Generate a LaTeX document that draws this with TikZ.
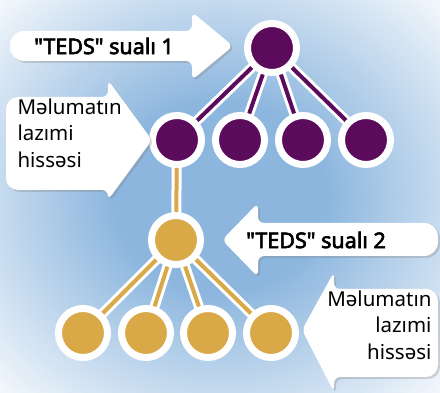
\documentclass[tikz,border=0pt]{standalone}
\usepackage{fontspec}
\setmainfont{Noto Sans}[Ligatures=TeXOff]
\newfontfamily\heavyface{Noto Sans}[Ligatures=TeXOff, FakeBold=3]
\definecolor{TreePurple}{HTML}{5C0A5B}
\definecolor{TreeGold}{HTML}{D9A847}
\definecolor{SkyBlue}{HTML}{8CB6DE}
\usetikzlibrary{
  shadows,
  backgrounds
}
\pgfdeclareradialshading{skyglow}{\pgfpoint{0bp}{0bp}}{%
  color(0bp)=(SkyBlue); color(12bp)=(SkyBlue);
  color(38bp)=(white); color(50bp)=(white)}

\begin{document}
\begin{tikzpicture}[
  x=1pt, y=-1pt,
  knot/.style={
    circle, minimum size=49pt, line width=7pt, draw=white,
    circular drop shadow={opacity=0.35, shadow xshift=2pt,
      shadow yshift=-2pt, shadow scale=1}
  },
  purpleknot/.style={knot, fill=TreePurple},
  goldknot/.style={knot, fill=TreeGold},
  link/.style={draw=white, line width=3pt, double distance=4pt},
  callout/.style={
    fill=white,
    drop shadow={opacity=0.3, shadow xshift=2pt, shadow yshift=-2pt}
  },
  boldtext/.style={font=\fontsize{21.5}{24}\heavyface},
  plaintext/.style={font=\fontsize{20.5}{26.5}\selectfont}
]
  \useasboundingbox (0,0) rectangle (440,393);

  % Question 1 and its answers
  \node[purpleknot] (q1) at (272,48) {};
  \node[purpleknot] (p1) at (177,140) {};
  \node[purpleknot] (p2) at (240,140) {};
  \node[purpleknot] (p3) at (303,140) {};
  \node[purpleknot] (p4) at (366,140) {};

  % Question 2 and its answers
  \node[goldknot] (q2) at (176,240) {};
  \node[goldknot] (g1) at (83,333) {};
  \node[goldknot] (g2) at (146,333) {};
  \node[goldknot] (g3) at (208,333) {};
  \node[goldknot] (g4) at (271,333) {};

  \begin{scope}[on background layer]
    % Sky behind the tree
    \shade[shading=skyglow] (0,0) rectangle (440,393);

    % Links
    \foreach \k in {p1,p2,p3,p4}
      \draw[link, double=TreePurple] (q1.center) -- (\k.center);
    \draw[link, double=TreeGold] (p1.center) -- (q2.center);
    \foreach \k in {g1,g2,g3,g4}
      \draw[link, double=TreeGold] (q2.center) -- (\k.center);
  \end{scope}

  % Arrow to question 1
  \fill[callout]
    [rounded corners=14pt] (10,61) -- (10,31)
    [rounded corners=6pt] -- (192,31) -- (192,12) -- (233,46)
    -- (192,80) -- (192,61) [rounded corners=14pt] -- cycle;
  \node[boldtext] (q1label) at (104,46) {"TEDS" sualı 1};

  % Arrow to the needed part (top)
  \fill[callout]
    [rounded corners=12pt] (6,190) -- (6,97)
    [rounded corners=6pt] -- (108,97) -- (108,80) -- (152,140)
    -- (108,200) -- (108,190) [rounded corners=12pt] -- cycle;
  \node[plaintext, align=left, anchor=north west] (p1label) at (14,95)
    {Məlumatın\\lazımi\\hissəsi};

  % Arrow to question 2
  \fill[callout]
    [rounded corners=14pt] (438,223) -- (438,256)
    [rounded corners=6pt] -- (258,256) -- (258,277) -- (222,240)
    -- (258,203) -- (258,223) [rounded corners=14pt] -- cycle;
  \node[boldtext] (q2label) at (316,240) {"TEDS" sualı 2};

  % Arrow to the needed part (bottom)
  \fill[callout]
    [rounded corners=12pt] (438,289) -- (438,377)
    [rounded corners=6pt] -- (334,377) -- (334,392) -- (302,330)
    -- (334,272) -- (334,289) [rounded corners=12pt] -- cycle;
  \node[plaintext, align=right, anchor=north east] (g4label) at (435,287)
    {Məlumatın\\lazımi\\hissəsi};
\end{tikzpicture}
\end{document}
